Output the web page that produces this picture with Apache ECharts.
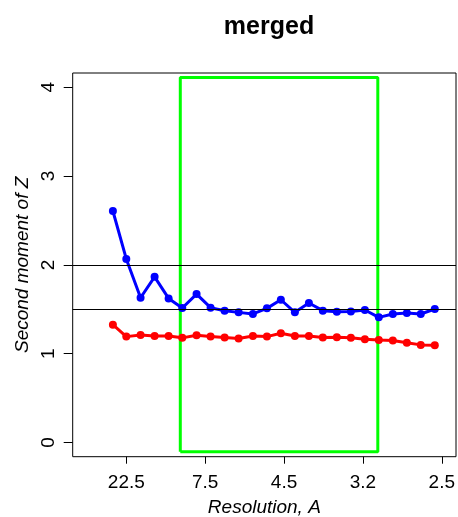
<!DOCTYPE html>
<html>
<head>
<meta charset="utf-8">
<script src="https://cdn.jsdelivr.net/npm/echarts@6/dist/echarts.min.js"></script>
<style>html,body{margin:0;padding:0;background:#fff}#c{width:458px;height:517px}</style>
</head>
<body>
<div id="c"></div>
<script>
// Bin centres in 1/d (1/A)
var invRes = [0.0293,0.0444,0.0605,0.0763,0.0921,0.1075,0.1236,0.1394,0.1552,0.1710,0.1871,0.2029,0.2186,0.2344,0.2502,0.2659,0.2817,0.2975,0.3133,0.3290,0.3448,0.3606,0.3763,0.3921];
var blueVals = [2.606,2.067,1.630,1.865,1.622,1.514,1.671,1.518,1.484,1.465,1.447,1.510,1.607,1.465,1.570,1.484,1.473,1.476,1.492,1.409,1.447,1.458,1.447,1.503];
var redVals = [1.327,1.192,1.211,1.200,1.200,1.178,1.207,1.192,1.181,1.170,1.200,1.192,1.230,1.200,1.200,1.181,1.185,1.178,1.163,1.155,1.148,1.122,1.099,1.095];
var tickRes = [22.5, 7.5, 4.5, 3.214, 2.5];
var yTicks = [0, 1, 2, 3, 4];
var hLines = [2, 1.5];
var boxRes = [9.5, 3.05];       // resolution limits of green box
var boxY = [-0.105, 4.109];

var font = 'Liberation Sans, Arial, Helvetica, sans-serif';
function pts(xs, ys){ return xs.map(function(x,i){ return [x, ys[i]]; }); }
var bx0 = 1/boxRes[0], bx1 = 1/boxRes[1];
var boxData = [[bx0,boxY[0]],[bx1,boxY[0]],[bx1,boxY[1]],[bx0,boxY[1]],[bx0,boxY[0]]];

var chart = echarts.init(document.getElementById('c'), null, {renderer:'canvas'});
chart.setOption({
  animation: false,
  backgroundColor: '#fff',
  title: {
    text: 'merged', left: 264, top: 10, textAlign: 'center',
    textStyle: {fontFamily: font, fontWeight: 'bold', fontSize: 25, color: '#000'}
  },
  grid: {left: 72.7, right: 2, top: 73, bottom: 60.3, containLabel: false, outerBoundsMode: 'none',
    show: true, borderColor: '#000', borderWidth: 1, backgroundColor: 'transparent'},
  xAxis: {
    type: 'value', min: -0.016, max: 0.416,
    splitLine: {show: false},
    axisLine: {show: false, onZero: false},
    axisTick: {show: true, length: 7, inside: false, lineStyle: {color: '#000', width: 1}, customValues: tickRes.map(function(r){return 1/r;})},
    axisLabel: {show: true, margin: 17, fontFamily: font, fontSize: 19, color: '#000',
      customValues: tickRes.map(function(r){return 1/r;}),
      formatter: function(v){ return (1/v).toFixed(1); }},
    name: 'Resolution, A', nameLocation: 'middle', nameGap: 42,
    nameTextStyle: {fontFamily: font, fontSize: 19, fontStyle: 'italic', color: '#000'}
  },
  yAxis: {
    type: 'value', min: -0.16, max: 4.16,
    splitLine: {show: false},
    axisLine: {show: false, onZero: false},
    axisTick: {show: true, length: 9, inside: false, lineStyle: {color: '#000', width: 1}, customValues: yTicks},
    axisLabel: {show: true, rotate: 90, margin: 14, fontFamily: font, fontSize: 19, color: '#000', customValues: yTicks},
    name: 'Second moment of Z', nameLocation: 'middle', nameGap: 38,
    nameTextStyle: {fontFamily: font, fontSize: 19, fontStyle: 'italic', color: '#000'}
  },
  series: [
    {
      type: 'line', data: pts(invRes, blueVals), symbol: 'circle', symbolSize: 8,
      lineStyle: {color: '#0000FF', width: 3}, itemStyle: {color: '#0000FF'},
      markLine: {silent: true, symbol: ['none','none'], label: {show: false},
        lineStyle: {color: '#000', width: 1, type: 'solid'},
        data: hLines.map(function(h){ return {yAxis: h}; })}
    },
    {
      type: 'line', data: pts(invRes, redVals), symbol: 'circle', symbolSize: 8,
      lineStyle: {color: '#FF0000', width: 3}, itemStyle: {color: '#FF0000'}
    },
    {
      type: 'line', data: boxData, symbol: 'none',
      lineStyle: {color: '#00FF00', width: 3}, z: 1
    }
  ]
});
</script>
</body>
</html>
